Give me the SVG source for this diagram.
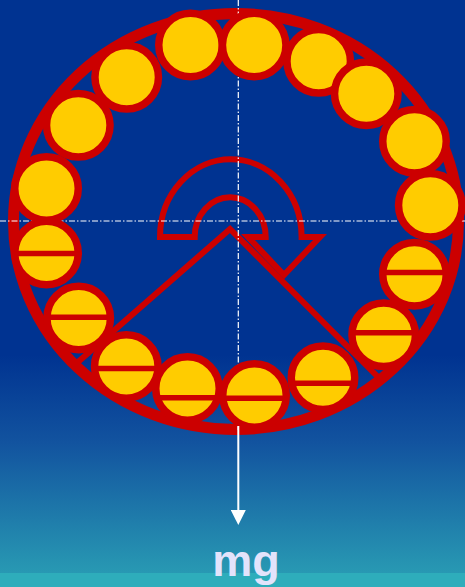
<svg xmlns="http://www.w3.org/2000/svg" width="465" height="587" viewBox="0 0 465 587">
<defs>
<linearGradient id="bg" x1="0" y1="355" x2="0" y2="573" gradientUnits="userSpaceOnUse">
<stop offset="0" stop-color="#003391"/>
<stop offset="0.4" stop-color="#12539f"/>
<stop offset="1" stop-color="#2899b3"/>
</linearGradient>
<marker id="ah" viewBox="0 0 15 15" refX="0" refY="7.5" markerWidth="15" markerHeight="15" markerUnits="userSpaceOnUse" orient="auto">
<path d="M0,0 L15,7.5 L0,15 Z" fill="#ffffff"/>
</marker>
<style>
.ball{fill:#ffcc00;stroke:#cc0000;stroke-width:7.5}
.bar{stroke:#cc0000;stroke-width:5.5;fill:none}
.red{fill:none;stroke:#cc0000;stroke-linejoin:miter}
.axis{stroke:#ffffff;stroke-width:1.2;stroke-dasharray:6 2 1.5 2;fill:none}
</style>
</defs>
<rect x="0" y="0" width="465" height="587" fill="url(#bg)"/>
<rect x="0" y="573" width="465" height="14" fill="#2eadbb"/>
<g id="ring"><ellipse cx="236" cy="221.5" rx="222.5" ry="208" class="red" stroke-width="11"/></g>
<g id="connectors">
<polyline points="74,365.5 230,229 381,380" class="red" stroke-width="6" stroke-miterlimit="10"/>
</g>
<g id="rotation-arrow">
<path d="M160,237 A70.8,77.7 0 0 1 301.6,237 L320,237 L284,275 L248,237 L265.7,237 A35.5,39.7 0 0 0 194.7,237 Z" class="red" stroke-width="6" stroke-miterlimit="10"/>
</g>
<g id="axes">
<line x1="0" y1="221" x2="465" y2="221" class="axis"/>
<line x1="238.3" y1="0" x2="238.3" y2="430" class="axis"/>
</g>
<g id="b9"><circle cx="46.5" cy="188.5" r="31.75" class="ball"/></g>
<g id="b8"><circle cx="78.3" cy="125.3" r="31.75" class="ball"/></g>
<g id="b7"><circle cx="126.7" cy="77.3" r="31.75" class="ball"/></g>
<g id="b1"><circle cx="190.5" cy="45" r="31.75" class="ball"/></g>
<g id="b2"><circle cx="254.2" cy="45" r="31.75" class="ball"/></g>
<g id="b3"><circle cx="318.7" cy="61.3" r="31.75" class="ball"/></g>
<g id="b4"><circle cx="366.3" cy="93.7" r="31.75" class="ball"/></g>
<g id="b5"><circle cx="414.5" cy="141.3" r="31.75" class="ball"/></g>
<g id="b6"><circle cx="430.3" cy="205.3" r="31.75" class="ball"/></g>
<g id="b10"><circle cx="46.5" cy="253" r="31.75" class="ball"/><line x1="16.5" y1="253.5" x2="76.5" y2="253.5" class="bar"/></g>
<g id="b11"><circle cx="78.7" cy="318" r="31.75" class="ball"/><line x1="48.7" y1="317.3" x2="108.7" y2="317.3" class="bar"/></g>
<g id="b12"><circle cx="126.3" cy="366.5" r="31.75" class="ball"/><line x1="96.4" y1="368.5" x2="156.2" y2="368.5" class="bar"/></g>
<g id="b13"><circle cx="187.5" cy="388.5" r="31.75" class="ball"/><line x1="158.8" y1="397.8" x2="216.2" y2="397.8" class="bar"/></g>
<g id="b14"><circle cx="254.5" cy="395.5" r="31.75" class="ball"/><line x1="224.6" y1="398.3" x2="284.4" y2="398.3" class="bar"/></g>
<g id="b15"><circle cx="323" cy="377.8" r="31.75" class="ball"/><line x1="293.5" y1="383.3" x2="352.5" y2="383.3" class="bar"/></g>
<g id="b16"><circle cx="383.7" cy="334.8" r="31.75" class="ball"/><line x1="353.8" y1="332.8" x2="413.6" y2="332.8" class="bar"/></g>
<g id="b17"><circle cx="414.5" cy="274.2" r="31.75" class="ball"/><line x1="384.6" y1="272.5" x2="444.4" y2="272.5" class="bar"/></g>
<g id="weight">
<line x1="238.3" y1="426" x2="238.3" y2="510" stroke="#ffffff" stroke-width="2" marker-end="url(#ah)"/>
<text x="246" y="576" text-anchor="middle" font-family="'Liberation Sans', Arial, sans-serif" font-weight="bold" font-size="45" fill="#e3e3fb">mg</text>
</g>
</svg>
